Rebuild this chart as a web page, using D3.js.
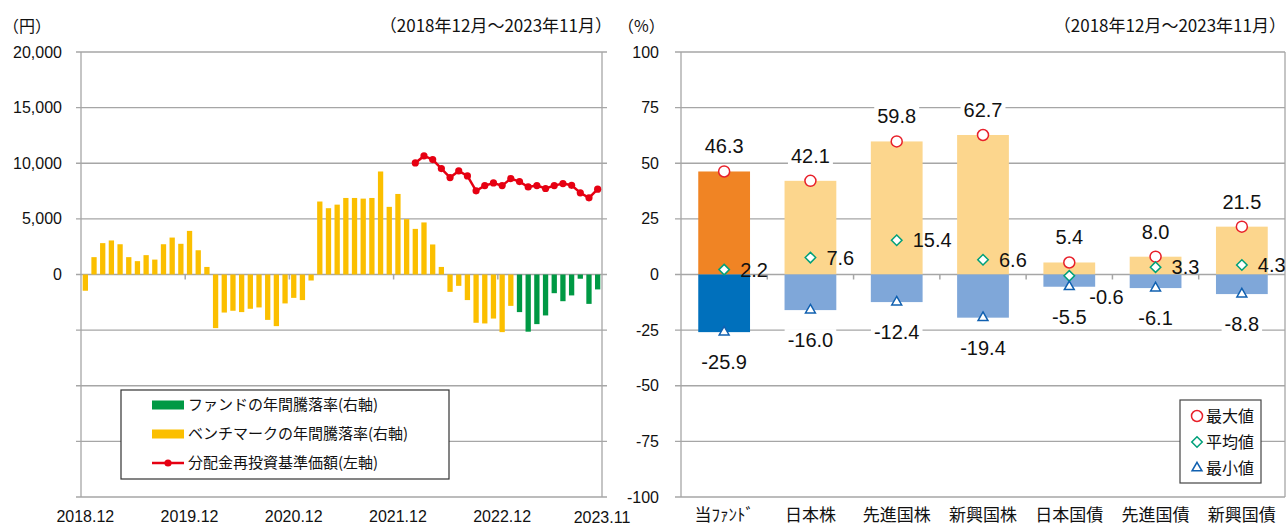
<!DOCTYPE html>
<html>
<head>
<meta charset="utf-8">
<script src="https://d3js.org/d3.v7.min.js"></script>
<style>
  body { margin: 0; background: #fff; }
  .num { font-family: "Liberation Sans", Arial, sans-serif; fill: #111; }
  .jp { font-family: "Noto Sans CJK JP", sans-serif; fill: #111; }
  .grid { stroke: #a6a6a6; stroke-width: 1.3px; }
</style>
</head>
<body>
<div id="chart"></div>
<script>

// ---- left chart data (monthly, 2018.12 - 2023.11) ----
var months = [];
for (var i = 0; i < 60; i++) {
  var m = (11 + i) % 12 + 1, yr = 2018 + Math.floor((11 + i) / 12);
  months.push(yr + "." + (m < 10 ? "0" + m : m));
}
var xLabels = ["2018.12", "2019.12", "2020.12", "2021.12", "2022.12"];
var lastLabel = "2023.11";

// benchmark annual return (%), 2018.12 - 2023.01
var benchReturn = [-7.3, 7.8, 14.1, 15.3, 13.6, 7.8, 6.0, 8.7, 6.7, 13.6, 16.6, 13.8,
  19.6, 10.9, 3.4, -24.1, -17.1, -16.3, -16.9, -15.4, -14.8, -20.4, -23.2, -13.0,
  -10.5, -11.5, -2.7, 32.8, 29.8, 31.4, 34.4, 34.4, 34.1, 34.4, 46.3, 30.4,
  36.2, 24.9, 20.5, 23.4, 13.5, 3.4, -7.8, -5.1, -11.5, -21.7, -22.0, -19.8,
  -25.9, -14.1];
// fund annual return (%), 2023.02 - 2023.11
var fundMonths = months.slice(50);
var fundReturn = [-16.9, -25.7, -22.3, -18.4, -8.4, -12.0, -9.4, -1.9, -13.2, -6.7];
// NAV (dividend reinvested), 2022.02 - 2023.11
var navMonths = months.slice(38);
var navValues = [10030, 10660, 10330, 9520, 8710, 9310, 8860, 7520, 7990, 8230, 7990,
  8620, 8350, 7870, 7990, 7730, 7990, 8170, 8020, 7340, 6890, 7670];

var leftTicks = [20000, 15000, 10000, 5000, 0, -5000, -10000, -15000, -20000];
var legendLeft = ["ファンドの年間騰落率(右軸)", "ベンチマークの年間騰落率(右軸)", "分配金再投資基準価額(左軸)"];

// ---- right chart data ----
var assets = ["当ﾌｧﾝﾄﾞ", "日本株", "先進国株", "新興国株", "日本国債", "先進国債", "新興国債"];
var maxVals = [46.3, 42.1, 59.8, 62.7, 5.4, 8.0, 21.5];
var avgVals = [2.2, 7.6, 15.4, 6.6, -0.6, 3.3, 4.3];
var minVals = [-25.9, -16.0, -12.4, -19.4, -5.5, -6.1, -8.8];
var rightTicks = [100, 75, 50, 25, 0, -25, -50, -75, -100];
var legendRight = ["最大値", "平均値", "最小値"];

var period = "（2018年12月～2023年11月）";

var W = 1286, H = 527;
var svg = d3.select("#chart").append("svg")
    .attr("width", W)
    .attr("height", H);

var yTop = 52, yBot = 497;

// ================= left chart =================
var lx0 = 81, lx1 = 602;
var x = d3.scaleBand().domain(months).range([lx0, lx1]).paddingInner(0.39).paddingOuter(0.195);
var yL = d3.scaleLinear().domain([-20000, 20000]).range([yBot, yTop]);
var yR = d3.scaleLinear().domain([-100, 100]).range([yBot, yTop]);

var left = svg.append("g");

left.selectAll(".gl")
  .data(leftTicks)
  .enter().append("line")
    .attr("class", "grid")
    .attr("x1", lx0 - 5).attr("x2", lx1 + 5)
    .attr("y1", function(d) { return yL(d); })
    .attr("y2", function(d) { return yL(d); });

left.append("line").attr("class", "grid")
  .attr("x1", lx0).attr("x2", lx0).attr("y1", yTop).attr("y2", yBot);
left.append("line").attr("class", "grid")
  .attr("x1", lx1).attr("x2", lx1).attr("y1", yTop).attr("y2", yBot);

left.selectAll(".yl")
  .data(leftTicks.filter(function(d) { return d >= 0; }))
  .enter().append("text")
    .attr("class", "num")
    .attr("x", 62)
    .attr("y", function(d) { return yL(d); })
    .attr("dy", "0.35em")
    .attr("text-anchor", "end")
    .style("font-size", "16px")
    .text(d3.format(","));

// benchmark bars
left.selectAll(".bb")
  .data(benchReturn)
  .enter().append("rect")
    .attr("x", function(d, i) { return x(months[i]); })
    .attr("width", x.bandwidth())
    .attr("y", function(d) { return yR(Math.max(0, d)); })
    .attr("height", function(d) { return Math.abs(yR(d) - yR(0)); })
    .attr("fill", "#fbbf00");

// fund bars
left.selectAll(".fb")
  .data(fundReturn)
  .enter().append("rect")
    .attr("x", function(d, i) { return x(fundMonths[i]); })
    .attr("width", x.bandwidth())
    .attr("y", function(d) { return yR(Math.max(0, d)); })
    .attr("height", function(d) { return Math.abs(yR(d) - yR(0)); })
    .attr("fill", "#009944");

// year ticks on the zero line
left.selectAll(".xt")
  .data(xLabels.slice(1))
  .enter().append("line")
    .attr("x1", function(d) { return x(d) - x.step() * 0.195; })
    .attr("x2", function(d) { return x(d) - x.step() * 0.195; })
    .attr("y1", yR(0)).attr("y2", yR(0) + 5)
    .attr("stroke", "#a6a6a6").attr("stroke-width", 1.5);

// NAV line
var line = d3.line()
  .x(function(d, i) { return x(navMonths[i]) + x.bandwidth() / 2; })
  .y(function(d) { return yL(d); });

left.append("path")
  .datum(navValues)
  .attr("d", line)
  .attr("fill", "none")
  .attr("stroke", "#e60012")
  .attr("stroke-width", 2.5);

left.selectAll(".dot")
  .data(navValues)
  .enter().append("circle")
    .attr("cx", function(d, i) { return x(navMonths[i]) + x.bandwidth() / 2; })
    .attr("cy", function(d) { return yL(d); })
    .attr("r", 3.6)
    .attr("fill", "#e60012");

// x labels
left.selectAll(".xl")
  .data(xLabels)
  .enter().append("text")
    .attr("class", "num")
    .attr("x", function(d) { return x(d) + x.bandwidth() / 2; })
    .attr("y", 522)
    .attr("text-anchor", "middle")
    .style("font-size", "16px")
    .text(function(d) { return d; });
left.append("text")
  .attr("class", "num")
  .attr("x", lx1).attr("y", 523)
  .attr("text-anchor", "middle")
  .style("font-size", "16px")
  .text(lastLabel);

// legend
var lg = left.append("g");
lg.append("rect")
  .attr("x", 121).attr("y", 390).attr("width", 328).attr("height", 89)
  .attr("fill", "#fff").attr("stroke", "#333").attr("stroke-width", 1.2);
var rowY = [405, 434, 463];
lg.append("rect").attr("x", 152).attr("y", rowY[0] - 4.5).attr("width", 32).attr("height", 9).attr("fill", "#009944");
lg.append("rect").attr("x", 152).attr("y", rowY[1] - 4.5).attr("width", 32).attr("height", 9).attr("fill", "#fbbf00");
lg.append("line").attr("x1", 152).attr("x2", 184).attr("y1", rowY[2]).attr("y2", rowY[2])
  .attr("stroke", "#e60012").attr("stroke-width", 2.5);
lg.append("circle").attr("cx", 168).attr("cy", rowY[2]).attr("r", 3.6).attr("fill", "#e60012");
lg.selectAll(".lt")
  .data(legendLeft)
  .enter().append("text")
    .attr("class", "jp")
    .attr("x", 188)
    .attr("y", function(d, i) { return rowY[i]; })
    .attr("dy", "0.35em")
    .style("font-size", "15px")
    .text(function(d) { return d; });

// headers
svg.append("text").attr("class", "jp").attr("x", 3).attr("y", 26).attr("dy", "0.35em")
  .style("font-size", "16px").text("（円）");
svg.append("text").attr("class", "jp").attr("x", 612).attr("y", 26).attr("dy", "0.35em")
  .attr("text-anchor", "end").style("font-size", "17px").text(period);

// ================= right chart =================
var rx0 = 681, rx1 = 1285;
var xa = d3.scaleBand().domain(assets).range([rx0, rx1]).paddingInner(0.4).paddingOuter(0.2);
var right = svg.append("g");

right.selectAll(".gr")
  .data(rightTicks)
  .enter().append("line")
    .attr("class", "grid")
    .attr("x1", rx0 - 6).attr("x2", rx1)
    .attr("y1", function(d) { return yR(d); })
    .attr("y2", function(d) { return yR(d); });
right.append("line").attr("class", "grid")
  .attr("x1", rx0).attr("x2", rx0).attr("y1", yTop).attr("y2", yBot);
right.append("line").attr("class", "grid")
  .attr("x1", rx1).attr("x2", rx1).attr("y1", yTop).attr("y2", yBot);

right.selectAll(".yr")
  .data(rightTicks)
  .enter().append("text")
    .attr("class", "num")
    .attr("x", 659)
    .attr("y", function(d) { return yR(d); })
    .attr("dy", "0.35em")
    .attr("text-anchor", "end")
    .style("font-size", "16px")
    .text(function(d) { return d; });

// category boundary ticks
right.selectAll(".ct")
  .data(assets.slice(1))
  .enter().append("line")
    .attr("x1", function(d) { return xa(d) - xa.step() * 0.2; })
    .attr("x2", function(d) { return xa(d) - xa.step() * 0.2; })
    .attr("y1", yR(0)).attr("y2", yR(0) + 5)
    .attr("stroke", "#a6a6a6").attr("stroke-width", 1.5);

right.selectAll(".pb")
  .data(maxVals)
  .enter().append("rect")
    .attr("x", function(d, i) { return xa(assets[i]); })
    .attr("width", xa.bandwidth())
    .attr("y", function(d) { return yR(d); })
    .attr("height", function(d) { return yR(0) - yR(d); })
    .attr("fill", function(d, i) { return i === 0 ? "#f08424" : "#fcd68d"; });

right.selectAll(".nb")
  .data(minVals)
  .enter().append("rect")
    .attr("x", function(d, i) { return xa(assets[i]); })
    .attr("width", xa.bandwidth())
    .attr("y", yR(0))
    .attr("height", function(d) { return yR(d) - yR(0); })
    .attr("fill", function(d, i) { return i === 0 ? "#0070bc" : "#7fa7d9"; });

function cx(i) { return xa(assets[i]) + xa.bandwidth() / 2; }

// labels with white background
function boxLabel(g, tx, ty, str) {
  var t = g.append("text")
    .attr("class", "num")
    .attr("x", tx).attr("y", ty)
    .attr("dy", "0.35em")
    .attr("text-anchor", "middle")
    .style("font-size", "20px")
    .text(str);
  var b = t.node().getBBox();
  g.insert("rect", function() { return t.node(); })
    .attr("x", b.x - 3).attr("y", b.y).attr("width", b.width + 6).attr("height", b.height)
    .attr("fill", "#fff");
}
var lbl = right.append("g");
maxVals.forEach(function(d, i) { boxLabel(lbl, cx(i), yR(d) - 25, d.toFixed(1)); });
minVals.forEach(function(d, i) { boxLabel(lbl, cx(i), yR(d) + 30, d.toFixed(1)); });

// avg labels, right of marker (日本国債 sits lower right)
var avgDx = [16, 16, 16, 16, 20, 16, 16], avgDy = [0, 0, 0, 0, 21, 0, 0];
right.selectAll(".al")
  .data(avgVals)
  .enter().append("text")
    .attr("class", "num")
    .attr("x", function(d, i) { return cx(i) + avgDx[i]; })
    .attr("y", function(d, i) { return yR(d) + avgDy[i]; })
    .attr("dy", "0.35em")
    .style("font-size", "20px")
    .text(function(d) { return d.toFixed(1); });

// markers
var circ = function(sel) { sel.attr("r", 5.5).attr("fill", "#fff").attr("stroke", "#e8202a").attr("stroke-width", 1.5); };
var diamond = d3.symbol().type(d3.symbolDiamond2).size(70);
var tri = d3.symbol().type(d3.symbolTriangle2).size(70);

right.selectAll(".mx")
  .data(maxVals)
  .enter().append("circle")
    .attr("cx", function(d, i) { return cx(i); })
    .attr("cy", function(d) { return yR(d); })
    .call(circ);
right.selectAll(".av")
  .data(avgVals)
  .enter().append("path")
    .attr("d", diamond)
    .attr("transform", function(d, i) { return "translate(" + cx(i) + "," + yR(d) + ")"; })
    .attr("fill", "#fff").attr("stroke", "#00a07a").attr("stroke-width", 1.5);
right.selectAll(".mn")
  .data(minVals)
  .enter().append("path")
    .attr("d", tri)
    .attr("transform", function(d, i) { return "translate(" + cx(i) + "," + yR(d) + ")"; })
    .attr("fill", "#fff").attr("stroke", "#1060b0").attr("stroke-width", 1.5);

// category labels
right.selectAll(".cl")
  .data(assets)
  .enter().append("text")
    .attr("class", "jp")
    .attr("x", function(d) { return xa(d) + xa.bandwidth() / 2; })
    .attr("y", 515)
    .attr("dy", "0.35em")
    .attr("text-anchor", "middle")
    .style("font-size", "17px")
    .text(function(d) { return d; });

// legend
var rg = right.append("g");
rg.append("rect")
  .attr("x", 1180).attr("y", 400).attr("width", 81).attr("height", 83)
  .attr("fill", "#fff").attr("stroke", "#444").attr("stroke-width", 1.2);
var rrow = [416, 442, 468];
rg.append("circle").attr("cx", 1197).attr("cy", rrow[0]).call(circ);
rg.append("path").attr("d", diamond).attr("transform", "translate(1197," + rrow[1] + ")")
  .attr("fill", "#fff").attr("stroke", "#00a07a").attr("stroke-width", 1.5);
rg.append("path").attr("d", tri).attr("transform", "translate(1197," + rrow[2] + ")")
  .attr("fill", "#fff").attr("stroke", "#1060b0").attr("stroke-width", 1.5);
rg.selectAll(".rt")
  .data(legendRight)
  .enter().append("text")
    .attr("class", "jp")
    .attr("x", 1206)
    .attr("y", function(d, i) { return rrow[i]; })
    .attr("dy", "0.35em")
    .style("font-size", "16px")
    .text(function(d) { return d; });

svg.append("text").attr("class", "jp").attr("x", 618).attr("y", 26).attr("dy", "0.35em")
  .style("font-size", "16px").text("（%）");
svg.append("text").attr("class", "jp").attr("x", 1286).attr("y", 26).attr("dy", "0.35em")
  .attr("text-anchor", "end").style("font-size", "17px").text(period);

</script>
</body>
</html>
